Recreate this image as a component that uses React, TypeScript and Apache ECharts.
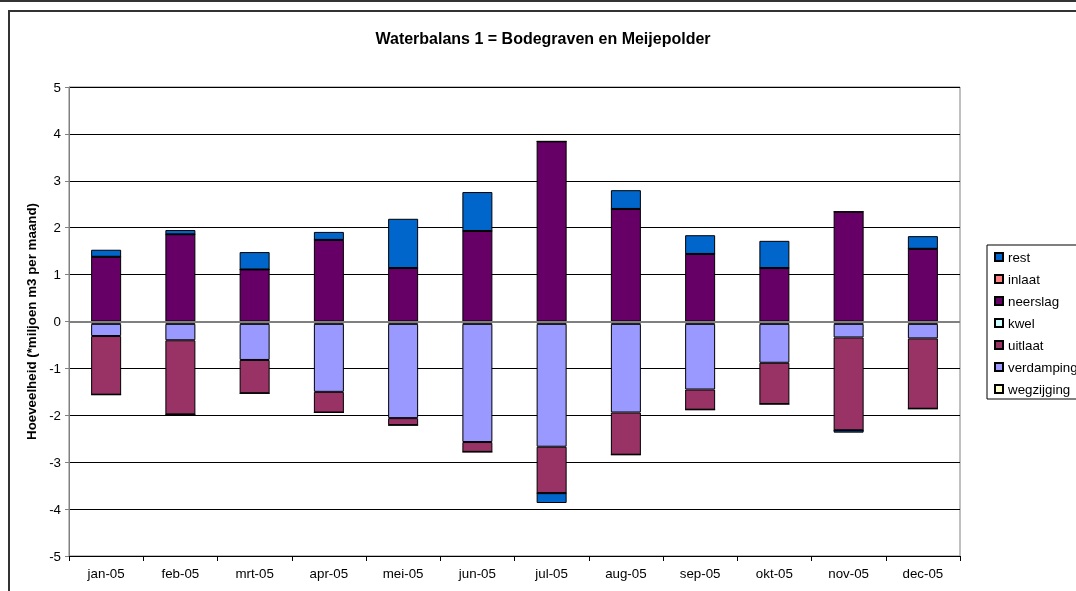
import React, { useEffect, useRef } from "react";
import * as echarts from "echarts";

const categories = ["jan-05", "feb-05", "mrt-05", "apr-05", "mei-05", "jun-05", "jul-05", "aug-05", "sep-05", "okt-05", "nov-05", "dec-05"];
const rest = [0.15, 0.09, 0.37, 0.17, 1.05, 0.83, -0.21, 0.40, 0.40, 0.58, -0.05, 0.27];
const inlaat = [0, 0, 0, 0, 0, 0, 0, 0, 0, 0, 0, 0];
const neerslag = [1.38, 1.86, 1.11, 1.74, 1.14, 1.93, 3.84, 2.40, 1.44, 1.14, 2.34, 1.55];
const kwel = [0, 0, 0, 0, 0, 0, 0, 0, 0, 0, 0, 0];
const uitlaat = [-1.25, -1.58, -0.71, -0.44, -0.15, -0.21, -0.99, -0.90, -0.43, -0.88, -1.98, -1.50];
const verdamping = [-0.26, -0.35, -0.77, -1.45, -2.01, -2.52, -2.62, -1.89, -1.40, -0.83, -0.29, -0.31];
const wegzijging = [-0.05, -0.05, -0.05, -0.05, -0.05, -0.05, -0.05, -0.05, -0.05, -0.05, -0.05, -0.05];
const yTicks = [-5, -4, -3, -2, -1, 0, 1, 2, 3, 4, 5];

const FONT = "'Liberation Sans', Arial, sans-serif";
const FS = 13.33;

export default function App() {
  const ref = useRef<HTMLDivElement>(null);
  useEffect(() => {
    document.body.style.margin = "0";
    const chart = echarts.init(ref.current!, undefined, { renderer: "svg" });
    const mk = (name: string, data: number[], color: string, extra: any = {}) => ({
      name,
      type: "bar",
      stack: "total",
      data,
      barWidth: 30,
      itemStyle: { color, borderColor: "#000", borderWidth: 1 },
      emphasis: { disabled: true },
      ...extra,
    });
    chart.setOption({
      animation: false,
      textStyle: { fontFamily: FONT },
      title: {
        text: "Waterbalans 1 = Bodegraven en Meijepolder",
        left: 538,
        textAlign: "center",
        top: 25,
        textStyle: { fontSize: 16, fontWeight: "bold", color: "#000", fontFamily: FONT },
      },
      graphic: [
        { type: "line", shape: { x1: 0, y1: 1, x2: 1076, y2: 1 }, style: { stroke: "#333", lineWidth: 2 } },
        { type: "rect", shape: { x: 9, y: 11, width: 1200, height: 700 }, style: { fill: "none", stroke: "#333", lineWidth: 2 }, z: -1 },
        { type: "rect", shape: { x: 987, y: 245, width: 120, height: 154 }, style: { fill: "#fff", stroke: "#000", lineWidth: 1 }, z: -1 },
      ],
      legend: {
        orient: "vertical",
        left: 994,
        top: 249,
        padding: 0,
        itemWidth: 8,
        itemHeight: 8,
        itemGap: 6,
        icon: "rect",
        data: ["rest", "inlaat", "neerslag", "kwel", "uitlaat", "verdamping", "wegzijging"],
        textStyle: { fontSize: FS, color: "#000", lineHeight: 16, fontFamily: FONT },
      },
      grid: {
        left: 69,
        right: 116,
        top: 87,
        bottom: 35,
        show: true,
        borderColor: "#808080",
        borderWidth: 1,
      },
      xAxis: {
        type: "category",
        data: categories,
        axisLine: { onZero: false, lineStyle: { color: "#000", width: 1 } },
        axisTick: { show: true, length: 5, lineStyle: { color: "#000" } },
        axisLabel: { fontSize: FS, color: "#000", margin: 11, fontFamily: FONT },
      },
      yAxis: {
        type: "value",
        min: yTicks[0],
        max: yTicks[yTicks.length - 1],
        interval: 1,
        name: "Hoeveelheid (*miljoen m3 per maand)",
        nameLocation: "middle",
        nameGap: 28,
        nameTextStyle: { fontSize: FS, fontWeight: "bold", color: "#000", fontFamily: FONT },
        axisLine: { show: true, lineStyle: { color: "#808080", width: 1 } },
        axisTick: { show: true, length: 4, lineStyle: { color: "#808080" } },
        axisLabel: { fontSize: FS, color: "#000", margin: 8, fontFamily: FONT },
        splitLine: { show: true, lineStyle: { color: "#000", width: 1 } },
      },
      series: [
        mk("wegzijging", wegzijging, "#FFFFCC"),
        mk("verdamping", verdamping, "#9999FF"),
        mk("uitlaat", uitlaat, "#993366"),
        mk("kwel", kwel, "#CCFFFF"),
        mk("neerslag", neerslag, "#660066"),
        mk("inlaat", inlaat, "#FF8080"),
        mk("rest", rest, "#0066CC", {
          markLine: {
            silent: true,
            symbol: "none",
            label: { show: false },
            lineStyle: { color: "#808080", width: 2, type: "solid" },
            data: [{ yAxis: 0 }],
            z: 10,
          },
        }),
      ],
    });
    return () => chart.dispose();
  }, []);
  return <div ref={ref} style={{ position: "fixed", left: 0, top: 0, width: 1076, height: 591 }} />;
}
